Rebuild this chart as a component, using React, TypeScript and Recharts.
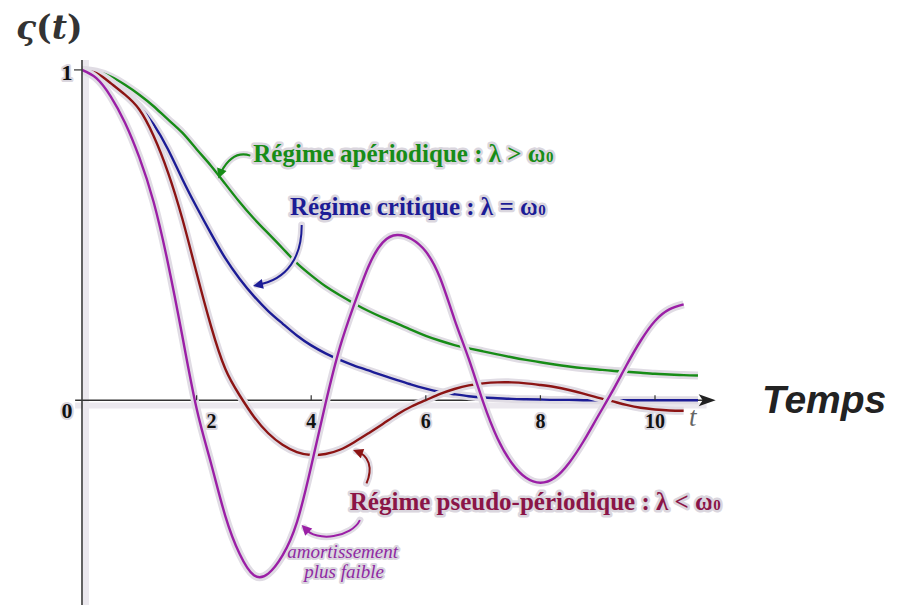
import React from 'react';
import { LineChart, Line, XAxis, YAxis, ReferenceLine, ReferenceDot } from 'recharts';

// time samples (s)
const tValues = [0, 0.25, 0.5, 0.75, 1, 1.25, 1.5, 1.75, 2, 2.25, 2.5, 2.75, 3, 3.25, 3.5, 3.75, 4, 4.25, 4.5, 4.75, 5, 5.25, 5.5, 5.75, 6, 6.25, 6.5, 6.75, 7, 7.25, 7.5, 7.75, 8, 8.25, 8.5, 8.75, 9, 9.25, 9.5, 9.75, 10, 10.25, 10.5, 10.75];

// Régime apériodique : λ > ω0
const aperiodic = [1, 0.995, 0.98, 0.955, 0.925, 0.89, 0.85, 0.81, 0.76, 0.71, 0.655, 0.6, 0.55, 0.505, 0.46, 0.415, 0.378, 0.345, 0.318, 0.293, 0.27, 0.25, 0.232, 0.213, 0.195, 0.18, 0.167, 0.157, 0.148, 0.139, 0.13, 0.122, 0.115, 0.108, 0.102, 0.097, 0.093, 0.089, 0.086, 0.083, 0.08, 0.078, 0.076, 0.075];

// Régime critique : λ = ω0
const critical = [1, 0.99, 0.965, 0.93, 0.89, 0.835, 0.76, 0.67, 0.585, 0.505, 0.43, 0.368, 0.315, 0.27, 0.232, 0.196, 0.166, 0.142, 0.122, 0.105, 0.09, 0.075, 0.061, 0.047, 0.035, 0.025, 0.018, 0.012, 0.008, 0.006, 0.004, 0.003, 0.002, 0.001, 0.001, 0, 0, 0, 0, 0, 0, 0, 0, 0];

// Régime pseudo-périodique : λ < ω0
const pseudo = [1, 0.99, 0.96, 0.925, 0.88, 0.8, 0.69, 0.55, 0.385, 0.225, 0.095, 0.015, -0.05, -0.1, -0.135, -0.157, -0.166, -0.163, -0.15, -0.127, -0.1, -0.072, -0.043, -0.019, 0, 0.019, 0.034, 0.045, 0.051, 0.054, 0.054, 0.051, 0.046, 0.04, 0.031, 0.02, 0.008, -0.003, -0.014, -0.023, -0.028, -0.031, -0.032];

// amortissement plus faible
const weak = [1, 0.975, 0.92, 0.84, 0.735, 0.6, 0.415, 0.195, -0.025, -0.19, -0.35, -0.465, -0.53, -0.525, -0.47, -0.37, -0.2, -0.01, 0.16, 0.29, 0.405, 0.478, 0.5, 0.488, 0.45, 0.37, 0.245, 0.125, -0.005, -0.115, -0.19, -0.235, -0.25, -0.235, -0.19, -0.125, -0.05, 0.025, 0.105, 0.18, 0.24, 0.275, 0.29];

const xTicks = [2, 4, 6, 8, 10];
const yTicks = [0, 1];

const data = tValues.map((t, i) => ({
  t,
  aperiodic: aperiodic[i],
  critical: critical[i],
  pseudo: pseudo[i],
  weak: weak[i],
}));

const HALO = '#e0dce4';
const GREEN = '#178c17';
const BLUE = '#1c1c96';
const RED = '#8c1414';
const PURPLE = '#9b1fa6';
const SERIF = '"Liberation Serif", "Times New Roman", serif';

const textHalo = {
  stroke: '#dad6de',
  strokeWidth: 5,
  paintOrder: 'stroke' as const,
  strokeLinejoin: 'round' as const,
};

function head(tx: number, ty: number, fx: number, fy: number, color: string) {
  const a = Math.atan2(ty - fy, tx - fx);
  const L = 10;
  const W = 5;
  const bx = tx - L * Math.cos(a);
  const by = ty - L * Math.sin(a);
  const px = -Math.sin(a) * W;
  const py = Math.cos(a) * W;
  return <polygon points={`${tx},${ty} ${bx + px},${by + py} ${bx - px},${by - py}`} fill={color} />;
}

function ArrowPath({ cx, cy, d, color, from }: { cx: number; cy: number; d: string; color: string; from: [number, number] }) {
  return (
    <g transform={`translate(${cx},${cy})`}>
      <path d={d} fill="none" stroke={HALO} strokeWidth={7} strokeLinecap="round" />
      <path d={d} fill="none" stroke={color} strokeWidth={2} />
      {head(0, 0, from[0], from[1], color)}
    </g>
  );
}

const Omega0 = () => (
  <>
    ω<tspan fontSize={15}>0</tspan>
  </>
);

const greenNote = (p: any) => (
  <g>
    <ArrowPath cx={p.cx} cy={p.cy} d="M 32 -23 C 20 -27, 10 -20, 3 -7" color={GREEN} from={[3, -8]} />
    <text x={p.cx + 35} y={p.cy - 16.6} fill={GREEN} fontFamily={SERIF} fontWeight="bold" fontSize={25} {...textHalo}>
      Régime apériodique : λ &gt; <Omega0 />
    </text>
  </g>
);

const blueNote = (p: any) => (
  <g>
    <ArrowPath cx={p.cx} cy={p.cy} d="M 48.7 -61 C 49 -30, 35 -6, 4 -1" color={BLUE} from={[10, -2]} />
    <text x={p.cx + 37} y={p.cy - 71} fill={BLUE} fontFamily={SERIF} fontWeight="bold" fontSize={25} {...textHalo}>
      Régime critique : λ = <Omega0 />
    </text>
  </g>
);

const redNote = (p: any) => (
  <g>
    <ArrowPath cx={p.cx} cy={p.cy} d="M 13.4 33.3 C 20 18, 16 5, 3 1" color={RED} from={[8, 3]} />
    <text x={p.cx - 3.3} y={p.cy + 60} fill="#8b1547" fontFamily={SERIF} fontWeight="bold" fontSize={25} {...textHalo}>
      Régime pseudo-périodique : λ &lt; <Omega0 />
    </text>
  </g>
);

const purpleNote = (p: any) => (
  <g>
    <ArrowPath cx={p.cx} cy={p.cy} d="M 58.3 -5 C 50 12, 15 18, 3 3" color={PURPLE} from={[7, 7]} />
    <text x={p.cx + 41} y={p.cy + 33} textAnchor="middle" fill="#8f2aa3" fontFamily={SERIF} fontStyle="italic" fontSize={19} {...textHalo} strokeWidth={4}>
      amortissement
    </text>
    <text x={p.cx + 42.5} y={p.cy + 53} textAnchor="middle" fill="#8f2aa3" fontFamily={SERIF} fontStyle="italic" fontSize={19} {...textHalo} strokeWidth={4}>
      plus faible
    </text>
  </g>
);

const xTickShape = (value: number) => (p: any) => (
  <g>
    <line x1={p.cx} y1={p.cy} x2={p.cx} y2={p.cy - 5} stroke="#333" strokeWidth={1.2} />
    <text
      x={p.cx + (value === 2 ? 15 : 0)}
      y={p.cy + 28}
      textAnchor="middle"
      fill="#111"
      fontFamily={SERIF}
      fontWeight="bold"
      fontSize={20}
      {...textHalo}
      strokeWidth={4}
    >
      {value}
    </text>
  </g>
);

const yTickShape = (value: number) => (p: any) => (
  <g>
    {value !== 0 && <line x1={p.cx - 8} y1={p.cy} x2={p.cx} y2={p.cy} stroke="#333" strokeWidth={1.2} />}
    <text
      x={p.cx - 15}
      y={value === 0 ? p.cy + 18 : p.cy + 10}
      textAnchor="middle"
      fill="#111"
      fontFamily={SERIF}
      fontWeight="bold"
      fontSize={22}
      {...textHalo}
      strokeWidth={4}
    >
      {value}
    </text>
  </g>
);

const arrowShape = (p: any) => (
  <g>
    <polygon points={`${p.cx + 12},${p.cy} ${p.cx - 5},${p.cy - 6} ${p.cx - 1},${p.cy} ${p.cx - 5},${p.cy + 6}`} fill="#222" />
    <text x={p.cx - 11} y={p.cy + 26} textAnchor="middle" fill="#666" fontFamily={SERIF} fontStyle="italic" fontSize={27}>
      t
    </text>
  </g>
);

export default function App() {
  return (
    <div style={{ position: 'relative', width: 898, height: 601 }}>
      <LineChart width={898} height={601} data={data} margin={{ top: 52, right: 193.7, bottom: 4, left: 0 }}>
        <XAxis dataKey="t" type="number" domain={[0, 11]} allowDataOverflow hide />
        <YAxis
          type="number"
          domain={[-0.62, 1.03]}
          allowDataOverflow
          width={74}
          tick={false}
          tickLine={false}
          axisLine={{ stroke: '#3a3a3a', strokeWidth: 1.6 }}
        />
        <ReferenceLine
          segment={[{ x: 0.07, y: -0.62 }, { x: 0.07, y: 1.03 }]}
          stroke="#ebe8ee"
          strokeWidth={6}
          ifOverflow="visible"
        />
        <ReferenceLine
          segment={[{ x: -0.12, y: -0.016 }, { x: 10.9, y: -0.016 }]}
          stroke="#ebe8ee"
          strokeWidth={6}
          ifOverflow="visible"
        />
        <ReferenceLine
          segment={[{ x: -0.12, y: 0 }, { x: 10.85, y: 0 }]}
          stroke="#333"
          strokeWidth={1.6}
          ifOverflow="visible"
        />

        <Line dataKey="aperiodic" type="natural" stroke={HALO} strokeWidth={8} dot={false} activeDot={false} isAnimationActive={false} />
        <Line dataKey="aperiodic" type="natural" stroke={GREEN} strokeWidth={2.4} dot={false} activeDot={false} isAnimationActive={false} />
        <Line dataKey="critical" type="natural" stroke={HALO} strokeWidth={8} dot={false} activeDot={false} isAnimationActive={false} />
        <Line dataKey="critical" type="natural" stroke={BLUE} strokeWidth={2.4} dot={false} activeDot={false} isAnimationActive={false} />
        <Line dataKey="pseudo" type="natural" stroke={HALO} strokeWidth={8} dot={false} activeDot={false} isAnimationActive={false} />
        <Line dataKey="pseudo" type="natural" stroke={RED} strokeWidth={2.4} dot={false} activeDot={false} isAnimationActive={false} />
        <Line dataKey="weak" type="natural" stroke={HALO} strokeWidth={8} dot={false} activeDot={false} isAnimationActive={false} />
        <Line dataKey="weak" type="natural" stroke={PURPLE} strokeWidth={2.4} dot={false} activeDot={false} isAnimationActive={false} />

        {xTicks.map((v) => (
          <ReferenceDot key={`xt${v}`} x={v} y={0} r={0} shape={xTickShape(v)} />
        ))}
        {yTicks.map((v) => (
          <ReferenceDot key={`yt${v}`} x={0} y={v} r={0} shape={yTickShape(v)} />
        ))}
        <ReferenceDot x={10.85} y={0} r={0} shape={arrowShape} />

        <ReferenceDot x={2.379} y={0.671} r={0} shape={greenNote} />
        <ReferenceDot x={2.984} y={0.346} r={0} shape={blueNote} />
        <ReferenceDot x={4.731} y={-0.151} r={0} shape={redNote} />
        <ReferenceDot x={3.833} y={-0.378} r={0} shape={purpleNote} />
      </LineChart>
      <svg width={898} height={601} style={{ position: 'absolute', left: 0, top: 0, pointerEvents: 'none' }}>
        <text x={8} y={30.5} fill="#333" fontFamily='"DejaVu Serif", serif' fontWeight="bold" fontSize={33}>
          <tspan fontStyle="italic">ς</tspan>
          <tspan>(</tspan>
          <tspan fontStyle="italic">t</tspan>
          <tspan>)</tspan>
        </text>
        <text x={754} y={405} fill="#222" fontFamily='"Liberation Sans", Arial, sans-serif' fontWeight="bold" fontStyle="italic" fontSize={39}>
          Temps
        </text>
      </svg>
    </div>
  );
}
